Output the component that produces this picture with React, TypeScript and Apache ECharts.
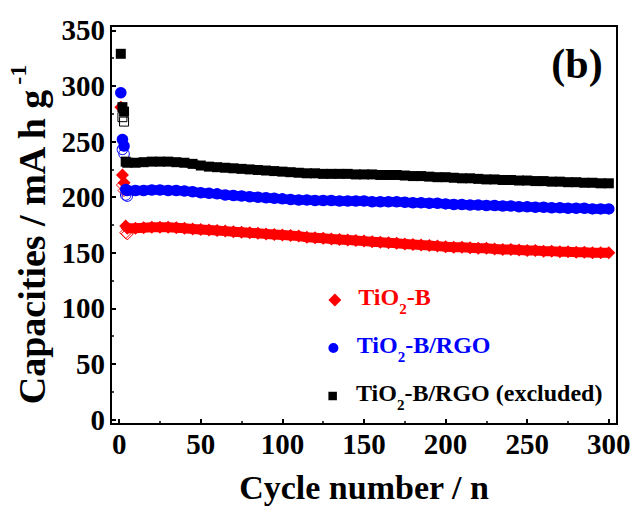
import React, { useEffect, useRef } from "react";
import * as echarts from "echarts";

const FONT = '"Liberation Serif", "Times New Roman", serif';

// ---- data ----
const SERIES_NAMES = ["TiO2-B", "TiO2-B/RGO", "TiO2-B/RGO (excluded)"];
const LEGEND_LABELS = [
  "{a|TiO}{s|2}{a|-B}",
  "{a|TiO}{s|2}{a|-B/RGO}",
  "{a|TiO}{s|2}{a|-B/RGO (excluded)}",
];
const COLORS = ["#ff0000", "#0000ff", "#000000"];

const EARLY_CYCLES = [1, 2, 3, 4];
const MAIN_CYCLES = [
  5, 10, 15, 20, 25, 30, 35, 40, 45, 50, 55, 60, 65, 70, 75, 80, 85, 90, 95, 100,
  105, 110, 115, 120, 125, 130, 135, 140, 145, 150, 155, 160, 165, 170, 175, 180, 185, 190, 195, 200,
  205, 210, 215, 220, 225, 230, 235, 240, 245, 250, 255, 260, 265, 270, 275, 280, 285, 290, 295, 300,
];

// TiO2-B
const TIO2B_EARLY = [281, 220, 213, 174];
const TIO2B_OPEN_CYCLES = [2, 3, 4, 5];
const TIO2B_OPEN = [211, 206, 168, 167];
const TIO2B_MAIN = [
  172, 172, 172.5, 173, 173, 173, 172.5, 172, 171.5, 171,
  170.5, 170, 169.5, 169, 168.5, 168, 167.5, 167, 166.5, 166,
  165.5, 165, 164, 163.5, 163, 162.5, 162, 161.5, 161, 160.5,
  160, 159.5, 159, 158.5, 158, 157.5, 157, 156.5, 156, 155.5,
  155, 155, 154.5, 154, 154, 153.5, 153, 153, 152.5, 152,
  152, 151.5, 151.5, 151, 151, 150.5, 150.5, 150, 150, 150,
];

// TiO2-B/RGO
const RGO_EARLY = [294, 252, 246, 207];
const RGO_OPEN_CYCLES = [2, 3, 4, 5];
const RGO_OPEN = [243, 239, 202, 201];
const RGO_MAIN = [
  206, 206, 206, 206.5, 206.5, 206, 206, 205.5, 205, 204,
  203.5, 203, 202, 201.5, 201, 200.5, 200, 199.5, 199, 198.5,
  198, 197.5, 197.5, 197, 197, 197, 196.5, 196.5, 196.5, 196.5,
  196, 196, 196, 196, 195.5, 195, 195, 194.5, 194.5, 194,
  193.5, 193.5, 193, 193, 192.5, 192.5, 192, 192, 191.5, 191.5,
  191, 191, 190.5, 190.5, 190, 190, 190, 189.5, 189.5, 189.5,
];

// TiO2-B/RGO (excluded)
const EXCL_EARLY = [329, 281, 277, 232];
const EXCL_OPEN_CYCLES = [2, 3];
const EXCL_OPEN = [272, 268];
const EXCL_MAIN = [
  231, 231, 231.5, 232, 232, 232, 231.5, 231, 230, 228.5,
  227.5, 227, 226.5, 226, 225.5, 225, 224.5, 224, 223.5, 223,
  222.5, 222, 221.5, 221.5, 221, 221, 221, 221, 220.5, 220.5,
  220.5, 220, 220, 220, 219.5, 219, 219, 218.5, 218, 218,
  217.5, 217, 217, 216.5, 216, 216, 215.5, 215.5, 215, 215,
  214.5, 214.5, 214, 214, 213.5, 213.5, 213, 213, 212.5, 212.5,
];

// ---- styling ----
const SYMBOLS = ["diamond", "circle", "rect"];
const SYMBOL_SIZES = [13, 11.5, 10];
const LINE_WIDTHS = [10, 9.5, 8.5];
const LEGEND_ICONS = [
  "path://M0,-1L1,0L0,1L-1,0Z",
  "path://M1,0A1,1,0,1,1,-1,0A1,1,0,1,1,1,0Z",
  "path://M-1,-1L1,-1L1,1L-1,1Z",
];
const LEGEND_ICON_SIZES = [13, 10, 8.5];
const LEGEND_CENTER_Y = [298, 346, 394];

const zip = (xs: number[], ys: number[]) => xs.map((x, i) => [x, ys[i]]);

const GROUPS = [
  { early: TIO2B_EARLY, openX: TIO2B_OPEN_CYCLES, open: TIO2B_OPEN, main: TIO2B_MAIN },
  { early: RGO_EARLY, openX: RGO_OPEN_CYCLES, open: RGO_OPEN, main: RGO_MAIN },
  { early: EXCL_EARLY, openX: EXCL_OPEN_CYCLES, open: EXCL_OPEN, main: EXCL_MAIN },
];

function buildSeries() {
  const out: any[] = [];
  GROUPS.forEach((g, i) => {
    const color = COLORS[i];
    out.push({
      name: SERIES_NAMES[i] + " open",
      type: "scatter",
      symbol: SYMBOLS[i],
      symbolSize: SYMBOL_SIZES[i] - 1,
      data: zip(g.openX, g.open),
      itemStyle: { color: "rgba(0,0,0,0)", borderColor: color, borderWidth: 1, opacity: 1 },
      silent: true,
    });
    out.push({
      name: SERIES_NAMES[i],
      type: "scatter",
      symbol: SYMBOLS[i],
      symbolSize: SYMBOL_SIZES[i],
      data: zip(EARLY_CYCLES, g.early),
      itemStyle: { color, opacity: 1 },
      silent: true,
    });
    out.push({
      name: SERIES_NAMES[i],
      type: "line",
      symbol: SYMBOLS[i],
      symbolSize: SYMBOL_SIZES[i],
      showSymbol: true,
      showAllSymbol: true,
      data: zip(MAIN_CYCLES, g.main),
      lineStyle: { color, width: LINE_WIDTHS[i], opacity: 1 },
      itemStyle: { color, borderWidth: 0, opacity: 1 },
      silent: true,
    });
  });
  return out;
}

const tickFormatter = (v: number) => (Math.abs(v % 50) < 1e-9 ? String(v) : "");

const axisCommon = {
  type: "value",
  axisLine: { show: true, onZero: false, lineStyle: { color: "#000", width: 2 } },
  axisTick: { show: true, inside: true, length: 5, lineStyle: { color: "#000", width: 2 } },
  minorTick: { show: true, splitNumber: 2, length: 3, lineStyle: { color: "#000", width: 1.5 } },
  splitLine: { show: false },
  minorSplitLine: { show: false },
  minInterval: 50,
  maxInterval: 50,
};

const labelStyle = {
  fontFamily: FONT,
  fontWeight: "bold",
  fontSize: 29,
  color: "#000",
  formatter: tickFormatter,
};

function buildLegends() {
  return SERIES_NAMES.map((name, i) => {
    const color = COLORS[i];
    const boxW = 36.8;
    return {
      data: [{ name, icon: LEGEND_ICONS[i] }],
      orient: "horizontal",
      left: 333.3 - boxW / 2 + 13.5,
      top: LEGEND_CENTER_Y[i] - 16 + 3,
      padding: 0,
      itemWidth: boxW,
      itemHeight: LEGEND_ICON_SIZES[i],
      symbolKeepAspect: true,
      selectedMode: false,
      formatter: () => LEGEND_LABELS[i],
      textStyle: {
        color,
        fontFamily: FONT,
        fontWeight: "bold",
        fontSize: 24,
        rich: {
          a: { color, fontFamily: FONT, fontWeight: "bold", fontSize: 24, padding: [0, 0, 6, 0] },
          s: { color, fontFamily: FONT, fontWeight: "bold", fontSize: 15, padding: [17, 0, 0, 0] },
        },
      },
    };
  });
}

const option: any = {
  animation: false,
  backgroundColor: "#fff",
  grid: {
    left: 111,
    top: 26,
    width: 506,
    height: 398,
    show: true,
    borderColor: "#000",
    borderWidth: 2,
    backgroundColor: "transparent",
    outerBoundsMode: "none",
    containLabel: false,
  },
  xAxis: {
    ...axisCommon,
    min: -5,
    max: 305,
    splitNumber: 6,
    axisLabel: { ...labelStyle, margin: 5 },
    name: "Cycle number / n",
    nameLocation: "middle",
    nameGap: 46,
    nameTextStyle: { fontFamily: FONT, fontWeight: "bold", fontSize: 34, color: "#000" },
  },
  yAxis: {
    ...axisCommon,
    min: -4,
    max: 354,
    splitNumber: 7,
    axisLabel: { ...labelStyle, margin: 6 },
    name: "{a|Capacities / mA h g}{b|-1}",
    nameLocation: "middle",
    nameGap: 51,
    nameTextStyle: {
      fontFamily: FONT,
      fontWeight: "bold",
      fontSize: 38,
      color: "#000",
      padding: [0, 20, 0, 0],
      rich: {
        a: { fontFamily: FONT, fontWeight: "bold", fontSize: 38, color: "#000" },
        b: { fontFamily: FONT, fontWeight: "bold", fontSize: 24, color: "#000", padding: [0, 0, 28, 4] },
      },
    },
  },
  legend: buildLegends(),
  graphic: [
    {
      type: "text",
      x: 577,
      y: 64,
      style: {
        text: "(b)",
        font: `bold 42px ${FONT}`,
        fill: "#000",
        align: "center",
        verticalAlign: "middle",
      },
    },
  ],
  series: buildSeries(),
};

export default function App() {
  const ref = useRef<HTMLDivElement>(null);
  useEffect(() => {
    const chart = echarts.init(ref.current!, null, { renderer: "svg" });
    chart.setOption(option);
    return () => chart.dispose();
  }, []);
  return (
    <div
      ref={ref}
      style={{ position: "fixed", left: 0, top: 0, width: 637, height: 507, background: "#fff" }}
    />
  );
}
